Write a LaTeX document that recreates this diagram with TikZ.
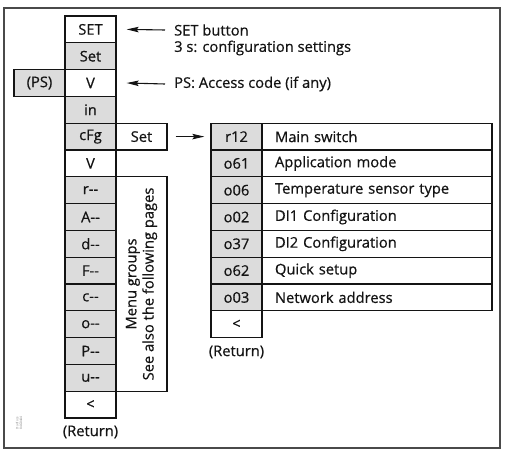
\documentclass[tikz,border=0pt]{standalone}
\usepackage{fontspec}
\setmainfont{Open Sans}
\newfontfamily\diafont{Open Sans}[FakeBold=0.6]
\usetikzlibrary{arrows.meta}
\definecolor{cellgray}{HTML}{DCDCDC}
\definecolor{ink}{HTML}{141414}
\definecolor{framec}{HTML}{4A4A4A}
\begin{document}
\begin{tikzpicture}[x=1pt,y=-1pt,
  txt/.style={font=\diafont\fontsize{14.7}{17.2}\selectfont, text=ink},
  cell/.style={draw=ink, line width=1.3pt, minimum width=51pt, minimum height=26.8pt, inner sep=0pt, txt},
  gcell/.style={cell, fill=cellgray},
  dcell/.style={cell, minimum width=230pt, text width=204pt, inner xsep=13pt, align=left},
  note/.style={txt, anchor=west, inner sep=0pt},
  arr/.style={draw=ink, line width=1.1pt, -{Stealth[length=12pt,width=5.5pt,inset=2pt]}}]
\useasboundingbox (0,0) rectangle (505,454);
\draw[framec, line width=1.5pt] (4,8) rectangle (500,448) ;
% left column
\node[cell]  (SET) at (90.5,29.4)  {SET};
\node[gcell] (set1) at (90.5,56.2) {Set};
\node[cell]  (V1)  at (90.5,83.0)  {V};
\node[gcell] (PS)  at (39.5,83.0)  {(PS)};
\node[gcell] (in)  at (90.5,109.8) {in};
\node[gcell] (cfg) at (90.5,136.6) {cFg};
\node[cell]  (set2) at (141.5,136.6) {Set};
\node[cell]  (V2)  at (90.5,163.4) {V};
\node[gcell] (r)   at (90.5,190.2) {r-{}-};
\node[gcell] (A)   at (90.5,217.0) {A-{}-};
\node[gcell] (d)   at (90.5,243.8) {d-{}-};
\node[gcell] (F)   at (90.5,270.6) {F-{}-};
\node[gcell] (c)   at (90.5,297.4) {c-{}-};
\node[gcell] (o)   at (90.5,324.2) {o-{}-};
\node[gcell] (P)   at (90.5,351.0) {P-{}-};
\node[gcell] (u)   at (90.5,377.8) {u-{}-};
\node[cell]  (ret1) at (90.5,404.6) {<};
\node[txt] (retl1) at (90.5,432) {(Return)};
% menu groups box
\node[draw=ink, line width=1.3pt, minimum width=51pt, minimum height=214.4pt, inner sep=0pt] (mg) at (141.5,284.0) {};
\node[txt, rotate=90, align=center] (mgt) at (mg.center) {Menu groups\\See also the following pages};
% notes
\node[note] (n1) at (174,30) {SET button};
\node[note] (n2) at (174,48) {3 s: configuration settings};
\node[note] (n3) at (174,84) {PS: Access code (if any)};
\draw[arr] ([xshift=-9pt]n1.west) -- ([xshift=10pt]SET.east);
\draw[arr] ([xshift=-9pt]n3.west) -- ([xshift=10pt]V1.east);
% right table
\node[gcell] (r12) at (236.5,136.6) {r12};
\node[dcell] (dr12) at (377,136.6) {Main switch};
\node[gcell] (o61) at (236.5,163.4) {o61};
\node[dcell] (do61) at (377,163.4) {Application mode};
\node[gcell] (o06) at (236.5,190.2) {o06};
\node[dcell] (do06) at (377,190.2) {Temperature sensor type};
\node[gcell] (o02) at (236.5,217.0) {o02};
\node[dcell] (do02) at (377,217.0) {DI1 Configuration};
\node[gcell] (o37) at (236.5,243.8) {o37};
\node[dcell] (do37) at (377,243.8) {DI2 Configuration};
\node[gcell] (o62) at (236.5,270.6) {o62};
\node[dcell] (do62) at (377,270.6) {Quick setup};
\node[gcell] (o03) at (236.5,297.4) {o03};
\node[dcell] (do03) at (377,297.4) {Network address};
\node[cell]  (ret2) at (236.5,324.2) {<};
\node[txt] (retl2) at (236.5,352) {(Return)};
\draw[arr] ([xshift=8pt]set2.east) -- ([xshift=-6pt]r12.west);
% tiny document code
\node[rotate=90, font=\fontsize{3.2}{3.6}\selectfont, text=gray, align=center] (code) at (19,423) {Danfoss\\84G0444};
\end{tikzpicture}
\end{document}
